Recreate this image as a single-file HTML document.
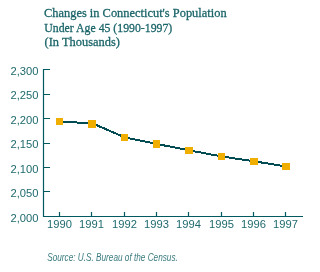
<!DOCTYPE html>
<html><head><meta charset="utf-8">
<style>
html,body{margin:0;padding:0;background:#fff;width:319px;height:272px;overflow:hidden}
svg{display:block;will-change:transform}
</style></head><body>
<svg width="319" height="272" viewBox="0 0 319 272">
<g font-family="Liberation Serif" font-size="13.3" fill="#1b6569" stroke="#1b6569" stroke-width="0.3">
<text x="44" y="16.5" textLength="182.6" lengthAdjust="spacingAndGlyphs">Changes in Connecticut's Population</text>
<text x="44.3" y="31.5" textLength="128" lengthAdjust="spacingAndGlyphs">Under Age 45 (1990-1997)</text>
<text x="44.6" y="46" textLength="75.4" lengthAdjust="spacingAndGlyphs">(In Thousands)</text>
</g>
<g font-family="Liberation Sans" font-size="11.2" fill="#1f6a6e" text-anchor="end">
<text x="38.5" y="74.9">2,300</text>
<text x="38.5" y="99.4">2,250</text>
<text x="38.5" y="123.8">2,200</text>
<text x="38.5" y="148.3">2,150</text>
<text x="38.5" y="172.8">2,100</text>
<text x="38.5" y="197.3">2,050</text>
<text x="38.5" y="221.6">2,000</text>
</g>
<g font-family="Liberation Sans" font-size="11.2" fill="#1f6a6e" text-anchor="middle">
<text x="59.5" y="227.5">1990</text>
<text x="91.5" y="227.5">1991</text>
<text x="124.5" y="227.5">1992</text>
<text x="156.5" y="227.5">1993</text>
<text x="188.5" y="227.5">1994</text>
<text x="221.5" y="227.5">1995</text>
<text x="253.5" y="227.5">1996</text>
<text x="285.5" y="227.5">1997</text>
</g>
<g stroke="#005a5f" stroke-width="1.2" fill="none">
<path d="M43.5 69.5H50M43.5 94.5H50M43.5 118.5H50M43.5 143.5H50M43.5 167.5H50M43.5 191.5H50"/>
<path d="M43.5 69V216.5H303"/>
<path d="M59.5 212V216M91.5 212V216M124.5 212V216M156.5 212V216M188.5 212V216M221.5 212V216M253.5 212V216M285.5 212V216"/>
</g>
<polyline points="59.4,121.8 91.9,123.1 124.5,137.3 156.4,143.9 188.9,150.3 221.4,156.4 253.9,161.3 285.9,166.4" fill="none" stroke="#004c52" stroke-width="2" shape-rendering="crispEdges"/>
<g fill="#efae00">
<rect x="56" y="118" width="7" height="7"/>
<rect x="88" y="120" width="8" height="8"/>
<rect x="121" y="134" width="7" height="7"/>
<rect x="153" y="140" width="7" height="8"/>
<rect x="185" y="147" width="8" height="7"/>
<rect x="218" y="153" width="7" height="7"/>
<rect x="250" y="158" width="8" height="7"/>
<rect x="282" y="163" width="8" height="7"/>
</g>
<text x="47.2" y="260.6" font-family="Liberation Sans" font-style="italic" font-size="10.2" fill="#3a7b7f" textLength="130.6" lengthAdjust="spacingAndGlyphs">Source: U.S. Bureau of the Census.</text>
</svg>
</body></html>
